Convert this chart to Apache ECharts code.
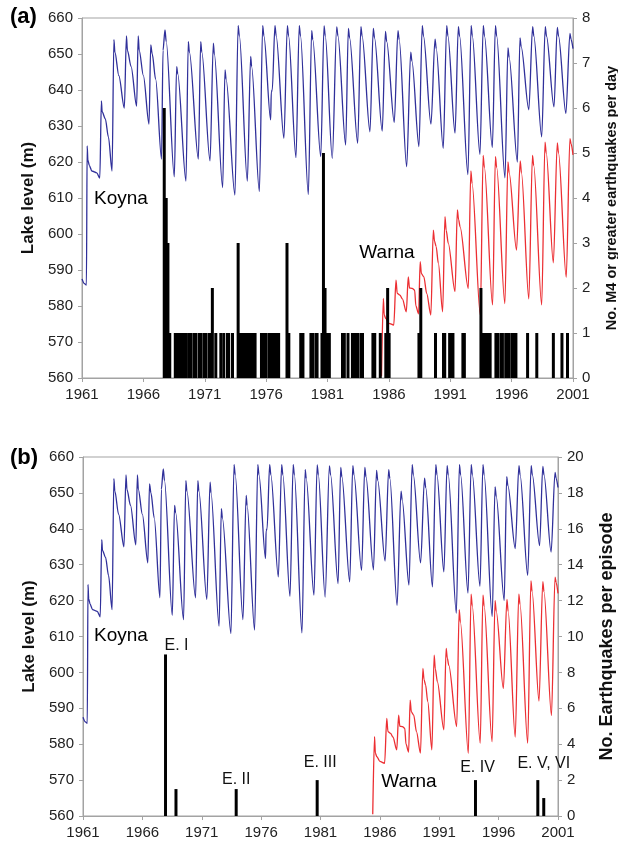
<!DOCTYPE html>
<html>
<head>
<meta charset="utf-8">
<script src="https://cdn.jsdelivr.net/npm/echarts@6/dist/echarts.min.js"></script>
<style>
  html, body { margin: 0; padding: 0; background: #fff; }
  #chart { width: 618px; height: 847px; }
</style>
</head>
<body>
<div id="chart"></div>
<script>
// Koyna lake level (m), [year, level] (troughs, peaks, shoulders)
const koynaLevel = [
  [1961.00,587.5],[1961.20,586.2],[1961.36,585.8],[1961.42,624.5],[1961.48,620.5],[1961.60,619.0],[1961.80,617.5],[1962.20,617.0],[1962.45,615.5],
  [1962.58,637.0],[1962.64,634.0],[1962.90,632.0],[1963.15,627.0],[1963.45,617.5],
  [1963.60,654.0],[1963.68,650.5],[1964.00,644.0],[1964.45,635.0],
  [1964.62,655.0],[1964.70,651.0],[1965.00,646.5],[1965.45,635.5],
  [1965.58,655.0],[1965.66,651.0],[1966.00,644.0],[1966.46,630.5],
  [1966.60,652.5],[1966.72,650.0],[1967.00,643.0],[1967.48,620.8],
  [1967.60,651.0],[1967.76,656.7],[1967.86,653.5],[1968.52,615.9],
  [1968.71,646.5],[1968.80,644.5],[1969.47,614.7],
  [1969.66,653.4],[1969.75,650.5],[1970.48,620.8],
  [1970.67,653.4],[1970.76,650.5],[1971.43,620.3],
  [1971.70,653.0],[1971.78,650.0],[1972.46,612.9],
  [1972.65,645.6],[1972.74,643.0],[1973.46,610.8],
  [1973.72,657.9],[1973.82,655.0],[1974.47,614.7],
  [1974.74,649.3],[1974.82,646.5],[1975.45,611.8],
  [1975.72,657.9],[1975.82,655.0],[1976.37,631.7],[1976.42,639.5],[1976.50,640.0],
  [1976.72,657.9],[1976.82,655.0],[1977.45,626.6],
  [1977.73,657.9],[1977.83,655.0],[1978.43,621.2],
  [1978.70,657.9],[1978.80,655.0],[1979.44,611.0],
  [1979.71,656.5],[1979.80,654.0],[1980.45,621.5],
  [1980.72,657.8],[1980.82,655.0],[1981.39,621.0],
  [1981.75,657.5],[1981.85,655.0],[1982.48,624.7],
  [1982.70,657.1],[1982.80,654.5],[1983.46,625.2],
  [1983.72,657.6],[1983.82,655.0],[1984.46,628.4],
  [1984.73,657.1],[1984.83,654.5],[1985.46,628.6],
  [1985.72,656.3],[1985.82,653.5],[1986.44,631.0],
  [1986.74,656.5],[1986.84,654.0],[1987.45,618.7],
  [1987.78,650.5],[1987.88,648.0],[1988.45,624.3],
  [1988.72,657.9],[1988.82,655.0],[1989.43,630.5],
  [1989.76,654.1],[1989.86,651.5],[1990.43,623.8],
  [1990.71,657.9],[1990.81,655.0],[1991.39,628.0],
  [1991.66,657.6],[1991.76,655.0],[1992.44,616.5],
  [1992.70,657.9],[1992.80,655.0],[1993.42,622.1],
  [1993.69,657.9],[1993.79,655.0],[1994.43,624.0],
  [1994.68,657.9],[1994.78,655.0],[1995.46,615.6],
  [1995.70,651.7],[1995.80,649.0],[1996.47,620.0],
  [1996.68,654.5],[1996.78,652.0],[1997.40,634.5],
  [1997.71,657.6],[1997.81,655.0],[1998.45,627.0],
  [1998.74,657.6],[1998.84,655.0],[1999.45,635.3],
  [1999.72,657.4],[1999.82,655.0],[2000.42,633.5],
  [2000.75,655.7],[2000.85,654.0],[2001.00,651.5]
];

// Warna lake level (m)
const warnaLevel = [
  [1985.40,560.5],[1985.55,582.1],[1985.62,577.5],[1985.75,576.5],[1986.00,575.2],[1986.40,574.7],
  [1986.58,587.2],[1986.68,583.5],[1986.90,583.0],[1987.10,582.0],[1987.42,578.4],
  [1987.58,588.1],[1987.68,585.0],[1987.90,584.9],[1988.10,584.4],[1988.20,580.0],[1988.42,577.8],
  [1988.55,592.3],[1988.65,589.0],[1988.85,588.1],[1989.08,583.5],[1989.42,577.5],
  [1989.62,601.1],[1989.72,598.0],[1989.85,596.5],[1990.03,591.9],[1990.38,578.4],
  [1990.57,604.8],[1990.67,601.0],[1990.84,597.4],[1991.39,584.0],
  [1991.58,606.7],[1991.68,604.0],[1991.80,602.0],[1992.47,584.9],
  [1992.68,617.5],[1992.78,614.0],[1993.45,577.5],
  [1993.68,621.8],[1993.78,618.5],[1994.45,580.3],
  [1994.68,621.5],[1994.78,618.5],[1995.45,580.7],
  [1995.70,620.0],[1995.80,617.0],[1996.40,595.5],
  [1996.70,620.3],[1996.80,617.0],[1997.40,582.0],
  [1997.70,621.8],[1997.80,619.0],[1998.45,580.3],
  [1998.72,625.5],[1998.82,622.5],[1999.40,592.0],
  [1999.72,625.3],[1999.82,622.5],[2000.45,588.0],
  [2000.75,626.5],[2000.85,625.0],[2001.00,622.0]
];

// (a) number of M4+ earthquakes per day, [year, count]
const eqPerDay = [
  [1967.70,6],[1967.86,4],[1968.00,3],[1968.15,1],
  [1968.60,1],[1968.75,1],[1968.90,1],[1969.05,1],[1969.20,1],[1969.35,1],[1969.50,1],
  [1969.72,1],[1969.88,1],[1970.13,1],[1970.28,1],[1970.55,1],[1970.70,1],[1970.95,1],[1971.10,1],
  [1971.36,1],[1971.52,1],[1971.62,2],[1971.90,1],[1972.31,1],[1972.55,1],[1972.85,1],[1972.95,1],
  [1973.26,1],[1973.72,3],
  [1973.90,1],[1974.05,1],[1974.20,1],[1974.35,1],[1974.50,1],[1974.65,1],[1974.80,1],[1974.95,1],[1975.10,1],
  [1975.62,1],[1975.77,1],[1975.92,1],[1976.00,1],[1976.25,1],[1976.38,1],
  [1976.60,1],[1976.75,1],[1976.90,1],[1977.02,1],[1977.70,3],[1977.85,1],
  [1978.82,1],[1979.00,1],[1979.65,1],[1979.78,1],[1980.05,1],[1980.15,1],
  [1980.55,1],[1980.67,5],[1980.80,2],[1980.92,1],[1981.15,1],
  [1982.22,1],[1982.37,1],[1982.67,1],[1983.03,1],[1983.18,1],[1983.33,1],[1983.45,1],
  [1983.72,1],[1983.85,1],[1984.70,1],[1984.85,1],[1985.30,1],
  [1985.75,1],[1985.90,2],[1986.02,1],[1988.45,1],[1988.60,2],[1989.80,1],
  [1990.45,1],[1990.55,1],[1990.95,1],[1991.10,1],[1991.22,1],[1992.03,1],[1992.15,1],
  [1993.50,2],[1993.65,1],[1993.80,1],[1993.95,1],[1994.10,1],[1994.25,1],
  [1994.72,1],[1994.85,1],[1995.12,1],[1995.25,1],[1995.52,1],[1995.67,1],[1995.80,1],
  [1996.05,1],[1996.20,1],[1996.35,1],[1997.30,1],[1998.05,1],[1999.40,1],[2000.10,1],[2000.55,1]
];

// (b) number of earthquakes per episode
const episodeYear = [1967.95, 1968.83, 1973.90, 1980.72, 1994.05, 1999.30, 1999.80];
const episodeCount = [9, 1.5, 1.5, 2, 2, 2, 1];
const episodeName = ['E. I', '', 'E. II', 'E. III', 'E. IV', 'E. V, VI', ''];
const episodeLabelOffset = [[11, 0], [0, 0], [0, 0], [3, -9], [2, -4], [6, -8], [0, 0]];

const FONT = 'Liberation Sans, Arial, sans-serif';
const AXIS_GRAY = '#a3a3a3';
const BLUE = '#30309a';
const RED = '#ec2f33';

function xAxis(gridIndex) {
  return {
    type: 'value', gridIndex: gridIndex, min: 1961, max: 2001, interval: 5,
    axisLine: { show: true, lineStyle: { color: AXIS_GRAY } },
    axisTick: { show: true, length: 4, lineStyle: { color: AXIS_GRAY } },
    splitLine: { show: false },
    axisLabel: { fontFamily: FONT, fontSize: 15, color: '#222', margin: 9, formatter: v => String(v) }
  };
}

function levelAxis(gridIndex) {
  return {
    type: 'value', gridIndex: gridIndex, position: 'left', min: 560, max: 660, interval: 10,
    name: 'Lake level (m)', nameLocation: 'middle', nameRotate: 90, nameGap: 45,
    nameTextStyle: { fontFamily: FONT, fontSize: 17, fontWeight: 'bold', color: '#111' },
    axisLine: { show: true, lineStyle: { color: AXIS_GRAY } },
    axisTick: { show: true, length: 4, lineStyle: { color: AXIS_GRAY } },
    splitLine: { show: false },
    axisLabel: { fontFamily: FONT, fontSize: 15, color: '#222', margin: 9 }
  };
}

function countAxis(gridIndex, max, interval, name, nameSize, nameGap) {
  return {
    type: 'value', gridIndex: gridIndex, position: 'right', min: 0, max: max, interval: interval,
    name: name, nameLocation: 'middle', nameRotate: 90, nameGap: nameGap,
    nameTextStyle: { fontFamily: FONT, fontSize: nameSize, fontWeight: 'bold', color: '#111' },
    axisLine: { show: true, lineStyle: { color: AXIS_GRAY } },
    axisTick: { show: true, length: 4, lineStyle: { color: AXIS_GRAY } },
    splitLine: { show: false },
    axisLabel: { fontFamily: FONT, fontSize: 15, color: '#222', margin: 9 }
  };
}

function levelLine(data, color, xi, yi) {
  return {
    type: 'line', xAxisIndex: xi, yAxisIndex: yi, data: data,
    showSymbol: false, symbol: 'none', z: 2, animation: false,
    smooth: 0.3, smoothMonotone: 'x',
    lineStyle: { color: color, width: 1.3 }
  };
}

const episodeData = episodeYear.map((y, i) => ({
  value: [y, episodeCount[i]],
  label: {
    show: episodeName[i] !== '',
    formatter: episodeName[i],
    position: 'top', distance: 1,
    offset: episodeLabelOffset[i],
    fontFamily: FONT, fontSize: 16, color: '#111'
  }
}));

const chart = echarts.init(document.getElementById('chart'), null, { renderer: 'canvas' });
chart.setOption({
  animation: false,
  backgroundColor: '#fff',
  grid: [
    { left: 82, top: 18, width: 491, height: 360, show: true, borderColor: AXIS_GRAY, borderWidth: 1, outerBoundsMode: 'none' },
    { left: 83, top: 457, width: 475, height: 359, show: true, borderColor: AXIS_GRAY, borderWidth: 1, outerBoundsMode: 'none' }
  ],
  xAxis: [xAxis(0), xAxis(1)],
  yAxis: [
    levelAxis(0),
    countAxis(0, 8, 1, 'No. M4 or greater earthquakes per day', 14.5, 31),
    levelAxis(1),
    countAxis(1, 20, 2, 'No. Earthquakes per episode', 18, 40)
  ],
  series: [
    levelLine(koynaLevel, BLUE, 0, 0),
    levelLine(warnaLevel, RED, 0, 0),
    {
      type: 'bar', xAxisIndex: 0, yAxisIndex: 1, data: eqPerDay,
      barWidth: 3, z: 3, itemStyle: { color: '#000' }
    },
    levelLine(koynaLevel, BLUE, 1, 2),
    levelLine(warnaLevel, RED, 1, 2),
    {
      type: 'bar', xAxisIndex: 1, yAxisIndex: 3, data: episodeData,
      barWidth: 3, z: 3, itemStyle: { color: '#000' }
    }
  ],
  graphic: [
    { type: 'text', left: 10, top: 6, style: { text: '(a)', font: 'bold 22px ' + FONT, fill: '#000' } },
    { type: 'text', left: 10, top: 447, style: { text: '(b)', font: 'bold 22px ' + FONT, fill: '#000' } },
    { type: 'text', x: 121, y: 199, style: { text: 'Koyna', font: '19px ' + FONT, fill: '#000', align: 'center', verticalAlign: 'middle' } },
    { type: 'text', x: 387, y: 253, style: { text: 'Warna', font: '19px ' + FONT, fill: '#000', align: 'center', verticalAlign: 'middle' } },
    { type: 'text', x: 121, y: 636, style: { text: 'Koyna', font: '19px ' + FONT, fill: '#000', align: 'center', verticalAlign: 'middle' } },
    { type: 'text', x: 409, y: 782, style: { text: 'Warna', font: '19px ' + FONT, fill: '#000', align: 'center', verticalAlign: 'middle' } }
  ]
});
</script>
</body>
</html>
